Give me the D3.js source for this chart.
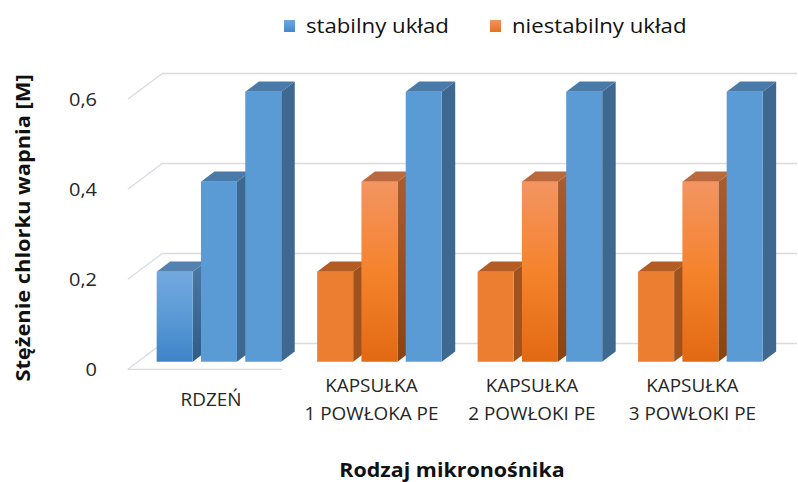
<!DOCTYPE html>
<html>
<head>
<meta charset="utf-8">
<script src="https://cdn.jsdelivr.net/npm/d3@7/dist/d3.min.js"></script>
<style>
  html, body { margin: 0; padding: 0; background: #fff; }
  svg text { font-family: "Open Sans", "DejaVu Sans", sans-serif; }
</style>
</head>
<body>
<svg id="chart" width="798" height="482"></svg>
<script>
// ---- data ----
const categories = [
  ["RDZEŃ"],
  ["KAPSUŁKA", "1 POWŁOKA PE"],
  ["KAPSUŁKA", "2 POWŁOKI PE"],
  ["KAPSUŁKA", "3 POWŁOKI PE"]
];
const seriesNames = ["stabilny układ", "niestabilny układ"];
// three columns per category; each column belongs to one of the two series
const columnValues = [
  [0.2, 0.4, 0.6],
  [0.2, 0.4, 0.6],
  [0.2, 0.4, 0.6],
  [0.2, 0.4, 0.6]
];
const columnSeries = [
  [0, 0, 0],
  [1, 1, 0],
  [1, 1, 0],
  [1, 1, 0]
];
const yTicks = [0, 0.2, 0.4, 0.6];
const yTickLabels = ["0", "0,2", "0,4", "0,6"];
const yTitle = "Stężenie chlorku wapnia [M]";
const xTitle = "Rodzaj mikronośnika";

// ---- layout ----
const svg = d3.select("#chart");
const DX = 34.5, DY = -25.8;          // full floor depth vector
const Z0 = 0.295, Z1 = 0.686;         // column front / back depth
const wallX = 127.8, wallRight = 797, floorEdgeEnd = 282;
const proj = (x, y, z) => [x + z * DX, y + z * DY];

const y = d3.scaleLinear().domain([0, 0.6]).range([369.3, 99.3]);
const x = d3.scaleBand().domain(d3.range(categories.length))
  .range([146.5, 752.5]).paddingInner(0.2237).paddingOuter(0);
const xi = d3.scaleBand().domain([0, 1, 2])
  .range([0, x.bandwidth()]).paddingInner(0.187).paddingOuter(0);

// ---- gradients ----
const defs = svg.append("defs");
function vgrad(id, stops) {
  const g = defs.append("linearGradient").attr("id", id)
    .attr("x1", 0).attr("y1", 0).attr("x2", 0).attr("y2", 1);
  stops.forEach(([o, c]) => g.append("stop").attr("offset", o).attr("stop-color", c));
}
vgrad("blueFront", [[0, "#72a9df"], [0.5, "#5a9ad6"], [1, "#3f84c8"]]);
vgrad("blueSide", [[0, "#4b78a4"], [1, "#2f5c87"]]);
vgrad("orangeFront", [[0, "#f39462"], [0.5, "#f5832c"], [1, "#e26914"]]);
vgrad("orangeSide", [[0, "#a95d31"], [1, "#8a4311"]]);
vgrad("legBlue", [[0, "#6ea7de"], [1, "#4689cd"]]);
vgrad("legOrange", [[0, "#f39462"], [1, "#e6701c"]]);

const flatStyle = [
  { front: "#5b9bd5", side: "#3e6890", top: "#4a7aa8" },
  { front: "#ec7e32", side: "#a0521d", top: "#b35c24" }
];
const shadedStyle = [
  { front: "url(#blueFront)", side: "url(#blueSide)", top: "#5482b0" },
  { front: "url(#orangeFront)", side: "url(#orangeSide)", top: "#b9693d" }
];
// shaded columns: first column of the core, middle column of each capsule
const isShaded = (ci, bi) => (ci === 0 && bi === 0) || (ci > 0 && bi === 1);

// ---- walls & gridlines ----
const grid = svg.append("g").attr("fill", "none")
  .attr("stroke", "#d9dae4").attr("stroke-width", 1.3);
yTicks.forEach(t => {
  const a = proj(wallX, y(t), 0), b = proj(wallX, y(t), 1);
  grid.append("path").attr("d", `M${a}L${b}L${wallRight},${b[1]}`);
});
grid.append("path").attr("d", `M${wallX},${y(0)}L${floorEdgeEnd},${y(0)}`);

// ---- columns ----
const bars = svg.append("g");
columnValues.forEach((vals, ci) => {
  vals.forEach((v, bi) => {
    const s = columnSeries[ci][bi];
    const st = isShaded(ci, bi) ? shadedStyle[s] : flatStyle[s];
    const x0 = x(ci) + xi(bi), x1 = x0 + xi.bandwidth();
    const yt = y(v), yb = y(0);
    const pts = arr => arr.map(p => p.join(",")).join(" ");
    bars.append("polygon").attr("fill", st.side)
      .attr("points", pts([proj(x1, yt, Z0), proj(x1, yb, Z0), proj(x1, yb, Z1), proj(x1, yt, Z1)]));
    bars.append("polygon").attr("fill", st.top)
      .attr("points", pts([proj(x0, yt, Z0), proj(x1, yt, Z0), proj(x1, yt, Z1), proj(x0, yt, Z1)]));
    bars.append("polygon").attr("fill", st.front)
      .attr("points", pts([proj(x0, yt, Z0), proj(x1, yt, Z0), proj(x1, yb, Z0), proj(x0, yb, Z0)]));
  });
});

// horizontally widened text helper
function label(g, txt, tx, ty, opts) {
  return g.append("text")
    .attr("transform", `translate(${tx},${ty}) scale(${opts.sx},1)`)
    .attr("text-anchor", opts.anchor || "middle")
    .attr("font-size", opts.size).attr("fill", opts.fill || "#1f1f1f")
    .attr("font-weight", opts.weight || 400).text(txt);
}

// ---- value axis ----
const axis = svg.append("g");
yTicks.forEach((t, i) => label(axis, yTickLabels[i], 97, y(t) + 7,
  { size: 19, sx: 1.05, anchor: "end", fill: "#262626" }));

// ---- category labels ----
const cats = svg.append("g");
categories.forEach((lines, ci) => {
  const cx = x(ci) + x.bandwidth() / 2 + Z0 * DX - 8;
  const first = 406 - (lines.length - 1) * 27.7 / 2;
  lines.forEach((ln, li) => label(cats, ln, cx, first + li * 27.7,
    { size: 17.5, sx: 1.08, fill: "#262626" }));
});

// ---- titles ----
svg.append("text")
  .attr("transform", "translate(30,228) rotate(-90) scale(1.12,1)")
  .attr("text-anchor", "middle").attr("font-size", 19.5).attr("font-weight", 700)
  .attr("fill", "#111").text(yTitle);
label(svg, xTitle, 452, 477, { size: 19.5, sx: 1.1, weight: 700, fill: "#111" });

// ---- legend ----
const legendX = [284, 490];
const leg = svg.append("g");
seriesNames.forEach((nm, i) => {
  leg.append("rect").attr("x", legendX[i]).attr("y", 20).attr("width", 11).attr("height", 12)
    .attr("fill", i === 0 ? "url(#legBlue)" : "url(#legOrange)");
  label(leg, nm, legendX[i] + 22, 32.5, { size: 20, sx: 1.11, anchor: "start", fill: "#111" });
});
</script>
</body>
</html>
